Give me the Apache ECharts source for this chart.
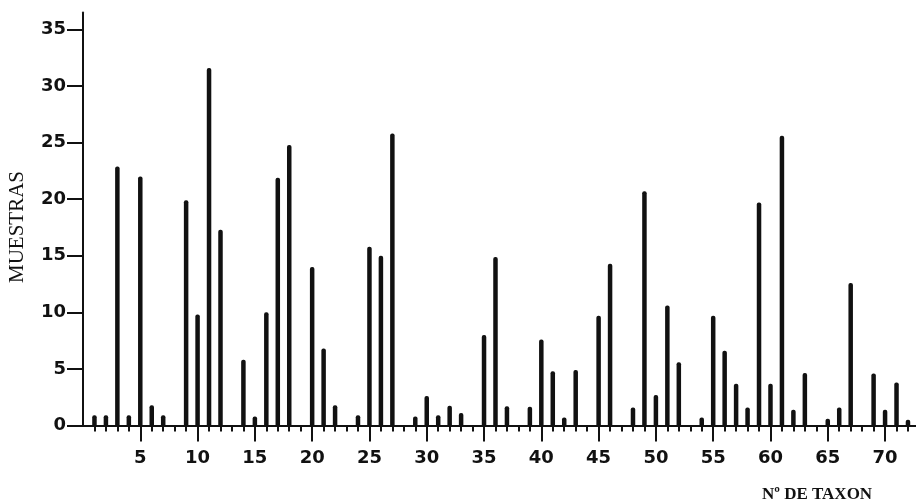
<!DOCTYPE html>
<html><head><meta charset="utf-8">
<script src="https://cdn.jsdelivr.net/npm/echarts@6/dist/echarts.min.js"></script>
<style>html,body{margin:0;padding:0;background:#fff}#c{width:916px;height:502px}</style>
</head><body><div id="c"></div>
<script>
// Taxon numbers (x)
const taxa = [1,2,3,4,5,6,7,8,9,10,11,12,13,14,15,16,17,18,19,20,
  21,22,23,24,25,26,27,28,29,30,31,32,33,34,35,36,37,38,39,40,
  41,42,43,44,45,46,47,48,49,50,51,52,53,54,55,56,57,58,59,60,
  61,62,63,64,65,66,67,68,69,70,71,72];
// Number of samples (MUESTRAS) per taxon
const muestras = [0.9,0.9,22.9,0.9,22,1.8,0.9,0,19.9,9.8,31.6,17.3,0,5.8,0.8,10,21.9,24.8,0,14,
  6.8,1.8,0,0.9,15.8,15,25.8,0,0.8,2.6,0.9,1.75,1.1,0,8,14.9,1.7,0,1.65,7.6,
  4.8,0.7,4.9,0,9.7,14.3,0,1.6,20.7,2.7,10.6,5.6,0,0.7,9.7,6.6,3.7,1.6,19.7,3.7,
  25.6,1.4,4.65,0,0.6,1.6,12.6,0,4.6,1.4,3.8,0.5];
// Tick values
const yTicks = [0,5,10,15,20,25,30,35];
const xMajorTicks = [5,10,15,20,25,30,35,40,45,50,55,60,65,70];
const xMinorTicks = taxa;

const ink = '#111';
const chart = echarts.init(document.getElementById('c'), null, {renderer:'canvas'});
chart.setOption({
  animation:false,
  backgroundColor:'#fff',
  title:{text:'Nº DE TAXON', left:757, top:481,
    textStyle:{fontFamily:'Liberation Serif', fontSize:17, fontWeight:'bold', color:ink}},
  grid:{left:83, right:0, top:12.5, bottom:76.5, containLabel:false, outerBoundsMode:'none'},
  xAxis:[
    {type:'value', min:0, max:72.7, position:'bottom',
     axisLine:{show:true, onZero:false, lineStyle:{color:ink, width:2}},
     axisTick:{show:true, customValues:xMajorTicks, length:16, lineStyle:{color:ink, width:2}},
     axisLabel:{customValues:xMajorTicks, margin:24, fontFamily:'DejaVu Sans', fontWeight:'bold', fontSize:18, color:ink},
     splitLine:{show:false}},
    {type:'value', min:0, max:72.7, position:'bottom', offset:4,
     axisLine:{show:false},
     axisTick:{show:true, customValues:xMinorTicks, length:6, lineStyle:{color:ink, width:2}},
     axisLabel:{show:false},
     splitLine:{show:false}}
  ],
  yAxis:{type:'value', min:0, max:36.5,
    axisLine:{show:true, lineStyle:{color:ink, width:2}},
    axisTick:{show:true, customValues:yTicks, length:16, lineStyle:{color:ink, width:2}},
    axisLabel:{customValues:yTicks, margin:17, fontFamily:'DejaVu Sans', fontWeight:'bold', fontSize:18, color:ink,
      verticalAlign:'middle', padding:[0,0,10,0]},
    splitLine:{show:false},
    name:'MUESTRAS', nameLocation:'middle', nameGap:55, nameRotate:90,
    nameTextStyle:{fontFamily:'Liberation Serif', fontSize:21, color:ink, padding:[0,16,0,0]}
  },
  series:[{type:'bar', xAxisIndex:0, yAxisIndex:0,
    data: taxa.map((t,i)=>[t, muestras[i]]),
    barWidth:4.5, itemStyle:{color:ink, borderRadius:[2,2,0,0]}}]
});
</script>
</body></html>
